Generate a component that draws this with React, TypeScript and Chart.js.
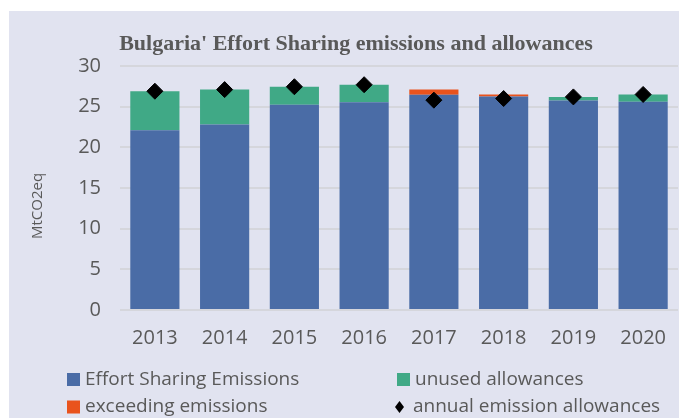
import React, { useEffect, useRef } from "react";
import { Chart, registerables } from "chart.js";

Chart.register(...registerables);

const categories = ["2013", "2014", "2015", "2016", "2017", "2018", "2019", "2020"];
const emissions = [22.1, 22.8, 25.25, 25.55, 26.45, 26.25, 25.75, 25.6];
const unusedAllowances = [4.8, 4.3, 2.2, 2.15, 0, 0, 0.45, 0.9];
const exceedingEmissions = [0, 0, 0, 0, 0.65, 0.25, 0, 0];
const annualAllowances = [26.9, 27.1, 27.45, 27.7, 25.8, 26.0, 26.2, 26.5];

const titleText = "Bulgaria' Effort Sharing emissions and allowances";
const yTitle = "MtCO2eq";

const BLUE = "#4A6CA6";
const GREEN = "#40A986";
const ORANGE = "#E9531D";
const BG = "#E1E3F0";
const TEXT = "#595959";
const SANS = "'Open Sans', sans-serif";

const decorPlugin = {
  id: "decor",
  beforeDraw(chart: any) {
    const { ctx, width, height } = chart;
    ctx.save();
    ctx.fillStyle = "#ffffff";
    ctx.fillRect(0, 0, width, height);
    ctx.fillStyle = BG;
    ctx.fillRect(1, 3, width - 1, height - 3);
    ctx.restore();
  },
  afterDraw(chart: any) {
    const { ctx } = chart;
    ctx.save();
    // title
    ctx.fillStyle = TEXT;
    ctx.font = "bold 22px 'Liberation Serif', serif";
    ctx.textAlign = "center";
    ctx.textBaseline = "middle";
    ctx.fillText(titleText, 348, 36);
    // y title
    ctx.save();
    ctx.translate(30, 198);
    ctx.rotate(-Math.PI / 2);
    ctx.font = `15px ${SANS}`;
    ctx.fillText(yTitle, 0, 0);
    ctx.restore();
    // legend
    const items = [
      { label: "Effort Sharing Emissions", color: BLUE, x: 59, y: 371.5, kind: "box" },
      { label: "unused allowances", color: GREEN, x: 389, y: 371.5, kind: "box" },
      { label: "exceeding emissions", color: ORANGE, x: 59, y: 399, kind: "box" },
      { label: "annual emission allowances", color: "#000", x: 389, y: 399, kind: "diamond" },
    ];
    ctx.font = `19px ${SANS}`;
    ctx.textAlign = "left";
    ctx.textBaseline = "middle";
    for (const it of items) {
      ctx.fillStyle = it.color;
      if (it.kind === "box") {
        ctx.fillRect(it.x, it.y - 6.5, 13, 13);
        ctx.fillStyle = TEXT;
        ctx.fillText(it.label, it.x + 18, it.y);
      } else {
        const cx = it.x + 2.5;
        ctx.beginPath();
        ctx.moveTo(cx, it.y - 6);
        ctx.lineTo(cx + 4.5, it.y);
        ctx.lineTo(cx, it.y + 6);
        ctx.lineTo(cx - 4.5, it.y);
        ctx.closePath();
        ctx.fill();
        ctx.fillStyle = TEXT;
        ctx.fillText(it.label, it.x + 16, it.y);
      }
    }
    ctx.restore();
  },
};

export default function App() {
  const ref = useRef<HTMLCanvasElement>(null);
  useEffect(() => {
    if (!ref.current) return;
    const barCommon = {
      type: "bar" as const,
      stack: "s",
      barPercentage: 0.705,
      categoryPercentage: 1,
      borderWidth: 0,
    };
    const chart = new Chart(ref.current, {
      type: "bar",
      data: {
        labels: categories,
        datasets: [
          {
            type: "line",
            label: "annual emission allowances",
            data: annualAllowances,
            showLine: false,
            pointStyle: "rectRot",
            pointRadius: 8,
            pointBackgroundColor: "#000",
            pointBorderColor: "#000",
            pointBorderWidth: 1,
            order: 0,
          } as any,
          { ...barCommon, label: "Effort Sharing Emissions", data: emissions, backgroundColor: BLUE, order: 1 },
          { ...barCommon, label: "unused allowances", data: unusedAllowances, backgroundColor: GREEN, order: 1 },
          { ...barCommon, label: "exceeding emissions", data: exceedingEmissions, backgroundColor: ORANGE, order: 1 },
        ],
      },
      options: {
        animation: false,
        responsive: false,
        maintainAspectRatio: false,
        layout: { padding: { top: 58, right: 4, bottom: 0, left: 0 } },
        plugins: {
          legend: { display: false },
          title: { display: false },
          tooltip: { enabled: false },
        },
        scales: {
          x: {
            stacked: true,
            grid: { display: false, drawTicks: false },
            border: { display: false },
            ticks: { color: TEXT, font: { family: SANS, size: 20 }, padding: 16 },
            afterFit: (s: any) => {
              s.height = 108;
            },
          },
          y: {
            stacked: true,
            min: 0,
            max: 30,
            grid: { color: "#D5D6DC", lineWidth: 2, drawTicks: false },
            border: { display: false },
            ticks: { stepSize: 5, color: TEXT, font: { family: SANS, size: 20 }, padding: 19 },
            afterFit: (s: any) => {
              s.width = 112;
            },
          },
        },
      },
      plugins: [decorPlugin],
    });
    return () => chart.destroy();
  }, []);
  return (
    <div style={{ width: 679, height: 410 }}>
      <canvas ref={ref} width={679} height={410} style={{ display: "block" }} />
    </div>
  );
}
